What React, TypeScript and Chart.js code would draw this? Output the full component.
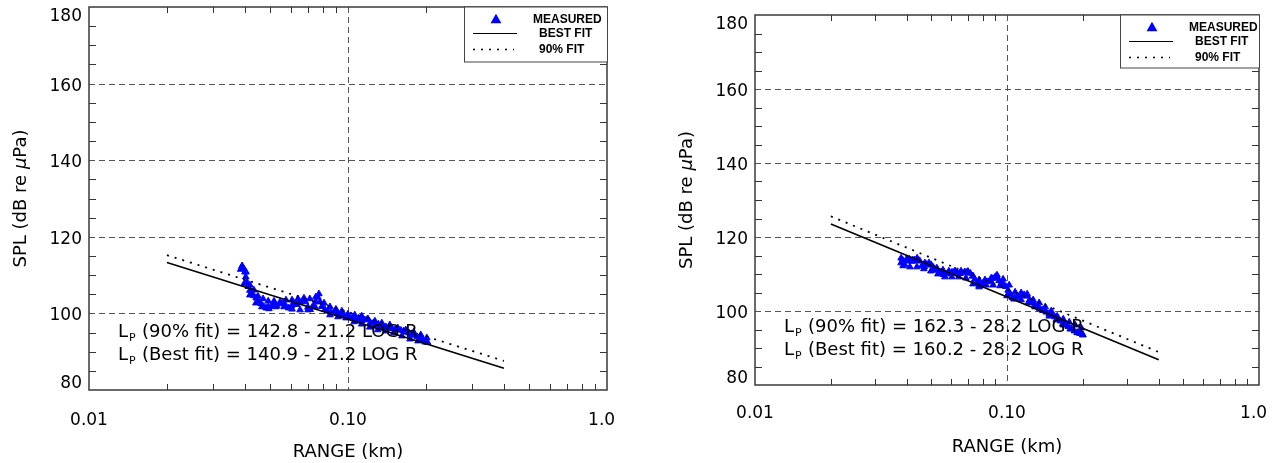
import React, { useEffect, useRef } from 'react';
import { Chart, registerables } from 'chart.js';

Chart.register(...registerables);

// ---------------- data ----------------
const X_TICKS = [0.01, 0.1, 1];
const X_TICK_LABELS = ['0.01', '0.10', '1.00'];
const Y_TICKS = [80, 100, 120, 140, 160, 180];
const Y_GRID = [100, 120, 140, 160];
const X_GRID = [0.1];
const Y_MINOR_STEP = 5;
const X_MINOR_MULT = [2, 3, 4, 5, 6, 7, 8, 9];

const FIT_RANGE = [0.02, 0.4];
const LEFT_BEST = [113.3, 85.7];
const LEFT_90 = [115.2, 87.6];
const RIGHT_BEST = [123.5, 86.8];
const RIGHT_90 = [125.6, 88.9];

// left panel measured samples (three passes through the band)
const LEFT_R = [
  0.0385, 0.039, 0.0395, 0.04, 0.0403, 0.0407, 0.0412, 0.0418, 0.0425, 0.0433,
  0.0442, 0.0452, 0.0462, 0.0473, 0.0483, 0.0495, 0.0505, 0.0517, 0.053, 0.0545,
  0.056, 0.0575, 0.059, 0.0605, 0.062, 0.0635, 0.065, 0.0668, 0.0685, 0.07,
  0.0715, 0.073, 0.075, 0.0765, 0.078, 0.0795, 0.0815, 0.0835, 0.086, 0.0885,
  0.091, 0.0935, 0.096, 0.0985, 0.101, 0.104, 0.107, 0.11, 0.113, 0.116,
  0.119, 0.122, 0.125, 0.128, 0.131, 0.134, 0.137, 0.14, 0.144, 0.148,
  0.152, 0.156, 0.16, 0.164, 0.168, 0.172, 0.176, 0.18, 0.185, 0.19,
  0.195, 0.2, 0.203,
];
const LEFT_SPL = [
  111.5, 112.3, 111.8, 110.8, 109.5, 108.2, 107.0, 106.0, 105.2, 104.6,
  104.0, 103.2, 102.5, 101.8, 101.4, 101.2, 101.8, 102.3, 102.0, 102.5,
  102.6, 102.0, 101.4, 101.9, 102.6, 102.3, 102.9, 103.3, 103.0, 101.6,
  101.0, 101.8, 103.0, 104.2, 103.0, 101.8, 101.0, 100.6, 100.3, 100.4,
  100.0, 99.7, 99.6, 99.2, 99.0, 99.0, 98.8, 98.4, 98.0, 98.3,
  98.6, 97.6, 97.4, 97.0, 97.2, 96.7, 96.4, 96.5, 96.2, 96.0,
  95.8, 95.9, 95.6, 95.4, 95.1, 94.9, 94.6, 94.3, 93.9, 93.5,
  93.1, 92.7, 92.4,
];
const LEFT_R_HI = [
  0.039, 0.0404, 0.0418, 0.0433, 0.0449, 0.047, 0.0492, 0.0518, 0.0547, 0.0576,
  0.0608, 0.0641, 0.0676, 0.0712, 0.0751, 0.0772, 0.0808, 0.0852, 0.0898, 0.0947,
  0.0999, 0.1062, 0.113, 0.1195, 0.127, 0.1351, 0.145, 0.1557, 0.1671, 0.1794,
  0.191, 0.2015,
];
const LEFT_SPL_HI = [
  112.4, 110.8, 107.4, 106.1, 104.5, 103.8, 103.2, 103.2, 103.0, 103.5,
  103.5, 103.8, 104.0, 103.8, 104.3, 105.1, 102.7, 101.7, 101.1, 100.6,
  99.8, 99.6, 99.3, 98.5, 98.0, 97.5, 97.0, 96.2, 95.7, 95.1,
  94.4, 93.6,
];
const LEFT_R_LO = [
  0.0397, 0.0418, 0.0441, 0.0465, 0.0492, 0.0527, 0.0566, 0.0608, 0.0653, 0.0701,
  0.0746, 0.0794, 0.0852, 0.0915, 0.0983, 0.1056, 0.113, 0.1213, 0.1303, 0.14,
  0.1504, 0.1615, 0.1735, 0.1863, 0.1985,
];
const LEFT_SPL_LO = [
  107.7, 104.8, 102.7, 101.7, 101.7, 101.7, 101.7, 101.1, 100.9, 100.9,
  101.7, 101.9, 99.6, 99.1, 98.8, 97.8, 97.2, 96.4, 95.7, 95.4,
  94.9, 94.1, 93.3, 92.8, 92.5,
];

// right panel measured samples
const RIGHT_R = [
  0.038, 0.0385, 0.0392, 0.04, 0.041, 0.042, 0.043, 0.044, 0.045, 0.046,
  0.047, 0.048, 0.049, 0.05, 0.051, 0.052, 0.053, 0.0545, 0.056, 0.0575,
  0.059, 0.0605, 0.062, 0.0635, 0.065, 0.0665, 0.068, 0.07, 0.0715, 0.073,
  0.0745, 0.076, 0.0775, 0.079, 0.0805, 0.082, 0.084, 0.086, 0.088, 0.09,
  0.0915, 0.093, 0.095, 0.097, 0.099, 0.101, 0.103, 0.105, 0.107, 0.109,
  0.111, 0.114, 0.117, 0.12, 0.123, 0.126, 0.129, 0.132, 0.135, 0.139,
  0.143, 0.147, 0.151, 0.155, 0.159, 0.163, 0.167, 0.171, 0.175, 0.18,
  0.185, 0.19, 0.195, 0.2,
];
const RIGHT_SPL = [
  113.0, 113.8, 112.6, 113.5, 114.0, 113.4, 113.8, 114.3, 113.6, 112.3,
  112.0, 112.6, 113.0, 112.5, 111.8, 111.2, 111.0, 110.4, 109.8, 110.0,
  110.3, 110.5, 110.8, 110.4, 110.1, 110.3, 110.6, 110.7, 110.2, 109.4,
  108.6, 107.6, 106.8, 107.0, 107.6, 108.0, 107.9, 108.2, 108.8, 109.3,
  109.0, 108.2, 107.6, 107.2, 106.6, 105.6, 104.6, 103.6, 103.4, 103.7,
  103.9, 104.1, 104.4, 104.0, 103.0, 102.3, 101.8, 101.2, 100.6, 100.1,
  99.7, 99.3, 98.9, 98.4, 97.8, 97.3, 96.7, 96.2, 95.8, 95.2,
  94.6, 94.2, 93.9, 93.6,
];
const RIGHT_R_HI = [
  0.038, 0.04, 0.0423, 0.0447, 0.0472, 0.0499, 0.0527, 0.0557, 0.0588, 0.0622,
  0.0657, 0.0694, 0.0733, 0.0775, 0.0818, 0.0865, 0.0913, 0.0965, 0.102, 0.1077,
  0.1138, 0.1202, 0.127, 0.1342, 0.1418, 0.1498, 0.1582, 0.1672, 0.1766, 0.1866,
  0.1972,
];
const RIGHT_SPL_HI = [
  114.3, 114.1, 113.8, 113.5, 113.0, 112.4, 111.6, 111.1, 110.8, 110.8,
  110.8, 110.5, 109.5, 108.4, 108.4, 108.9, 109.7, 108.6, 107.0, 105.1,
  104.9, 104.6, 103.0, 102.2, 101.1, 100.0, 98.6, 97.8, 97.0, 96.2,
  95.4,
];
const RIGHT_R_LO = [
  0.0387, 0.0412, 0.0439, 0.0468, 0.0499, 0.0532, 0.0567, 0.0604, 0.0644, 0.0687,
  0.0733, 0.0775, 0.0826, 0.088, 0.0938, 0.1, 0.1066, 0.1138, 0.1213, 0.1293,
  0.1379, 0.147, 0.1568, 0.1672, 0.1782, 0.19, 0.2,
];
const RIGHT_SPL_LO = [
  112.2, 111.9, 111.9, 111.4, 110.8, 110.0, 109.2, 109.2, 109.2, 108.9,
  107.3, 106.5, 107.0, 107.0, 106.8, 104.1, 103.2, 103.0, 102.2, 101.1,
  100.3, 98.6, 97.6, 96.2, 95.1, 94.1, 93.5,
];

const LEFT_EQ = ['(90% fit) = 142.8 - 21.2 LOG R', '(Best fit) = 140.9 - 21.2 LOG R'];
const RIGHT_EQ = ['(90% fit) = 162.3 - 28.2 LOG R', '(Best fit) = 160.2 - 28.2 LOG R'];
const EQ_MAIN = 'L';
const EQ_SUB = 'P';
const LEGEND_LABELS = ['MEASURED', 'BEST FIT', '90% FIT'];
const X_TITLE = 'RANGE (km)';
const Y_TITLE_PARTS = ['SPL (dB re ', 'μ', 'Pa)'];

// ---------------- styling ----------------
const FONT = '"DejaVu Sans", "Liberation Sans", sans-serif';
const LEGEND_FONT = 'bold 12px "Liberation Sans", Arial, sans-serif';
const BLUE = '#0000ff';
const CANVAS_TOP = -20;

type PanelCfg = {
  wrapLeft: number;
  wrapWidth: number;
  canvasW: number;
  canvasH: number;
  padTop: number;
  padRight: number;
  yAxisWidth: number;
  xAxisHeight: number;
  xTickPad: number;
  legendW: number;
  legendH: number;
  rSets: number[][];
  splSets: number[][];
  best: number[];
  fit90: number[];
  eq: string[];
};

function makeDecor(cfg: PanelCfg) {
  return {
    id: 'decor',
    beforeDatasetsDraw(chart: any) {
      const { ctx, chartArea: a } = chart;
      const x = chart.scales.x;
      const y = chart.scales.y;
      ctx.save();
      // dashed grid lines
      ctx.strokeStyle = '#555';
      ctx.lineWidth = 1;
      ctx.setLineDash([6, 4]);
      Y_GRID.forEach((v) => {
        const py = Math.round(y.getPixelForValue(v)) + 0.5;
        ctx.beginPath();
        ctx.moveTo(a.left, py);
        ctx.lineTo(a.right, py);
        ctx.stroke();
      });
      X_GRID.forEach((v) => {
        const px = Math.round(x.getPixelForValue(v)) + 0.5;
        ctx.beginPath();
        ctx.moveTo(px, a.top);
        ctx.lineTo(px, a.bottom);
        ctx.stroke();
      });
      ctx.setLineDash([]);
      // minor ticks
      ctx.strokeStyle = '#333';
      ctx.lineWidth = 1;
      for (let v = y.min + Y_MINOR_STEP; v < y.max; v += Y_MINOR_STEP) {
        if (Y_GRID.includes(v)) continue;
        const py = Math.round(y.getPixelForValue(v)) + 0.5;
        ctx.beginPath();
        ctx.moveTo(a.left, py);
        ctx.lineTo(a.left + 7, py);
        ctx.moveTo(a.right - 7, py);
        ctx.lineTo(a.right, py);
        ctx.stroke();
      }
      for (let d = X_TICKS[0]; d < X_TICKS[X_TICKS.length - 1] - 1e-9; d *= 10) {
        X_MINOR_MULT.forEach((k) => {
          const px = Math.round(x.getPixelForValue(k * d)) + 0.5;
          ctx.beginPath();
          ctx.moveTo(px, a.bottom);
          ctx.lineTo(px, a.bottom - 6);
          ctx.moveTo(px, a.top);
          ctx.lineTo(px, a.top + 6);
          ctx.stroke();
        });
      }
      // frame
      ctx.strokeStyle = '#3a3a3a';
      ctx.lineWidth = 1.5;
      ctx.strokeRect(a.left, a.top, a.right - a.left, a.bottom - a.top);
      ctx.restore();
    },
    afterDatasetsDraw(chart: any) {
      const { ctx, chartArea: a } = chart;
      const y = chart.scales.y;
      ctx.save();
      // y tick labels
      ctx.fillStyle = '#000';
      ctx.font = `17px ${FONT}`;
      ctx.textAlign = 'right';
      ctx.textBaseline = 'middle';
      Y_TICKS.forEach((v) => {
        const off = v === y.max ? 9.5 : v === y.min ? -6 : 2.5;
        ctx.fillText(String(v), a.left - 7, y.getPixelForValue(v) + off);
      });
      // equations
      ctx.textAlign = 'left';
      ctx.textBaseline = 'alphabetic';
      const baselines = [a.bottom - 53, a.bottom - 30];
      cfg.eq.forEach((txt, i) => {
        const x0 = a.left + 29;
        const b = baselines[i];
        ctx.font = `18px ${FONT}`;
        ctx.fillText(EQ_MAIN, x0, b);
        ctx.font = `11px ${FONT}`;
        ctx.fillText(EQ_SUB, x0 + 11, b + 4);
        ctx.font = `18px ${FONT}`;
        ctx.fillText(txt, x0 + 24, b);
      });
      // legend
      const L = a.right - cfg.legendW;
      const T = a.top;
      ctx.fillStyle = '#fff';
      ctx.fillRect(L, T, cfg.legendW, cfg.legendH);
      ctx.strokeStyle = '#444';
      ctx.lineWidth = 1;
      ctx.strokeRect(Math.round(L) + 0.5, T, cfg.legendW, cfg.legendH);
      // triangle
      const tx = L + 32;
      const ty = T + 13;
      const tr = 6.3;
      ctx.fillStyle = BLUE;
      ctx.beginPath();
      ctx.moveTo(tx, ty - tr);
      ctx.lineTo(tx + tr * 0.866, ty + tr * 0.5);
      ctx.lineTo(tx - tr * 0.866, ty + tr * 0.5);
      ctx.closePath();
      ctx.fill();
      // lines
      ctx.strokeStyle = '#000';
      ctx.lineWidth = 1.2;
      ctx.beginPath();
      ctx.moveTo(L + 9, T + 26.5);
      ctx.lineTo(L + 53, T + 26.5);
      ctx.stroke();
      ctx.lineWidth = 1.6;
      ctx.setLineDash([2, 6]);
      ctx.beginPath();
      ctx.moveTo(L + 9, T + 42.5);
      ctx.lineTo(L + 50, T + 42.5);
      ctx.stroke();
      ctx.setLineDash([]);
      // legend text
      ctx.fillStyle = '#000';
      ctx.font = LEGEND_FONT;
      ctx.textBaseline = 'middle';
      ctx.fillText(LEGEND_LABELS[0], L + 69, T + 12.5);
      ctx.fillText(LEGEND_LABELS[1], L + 75, T + 26.5);
      ctx.fillText(LEGEND_LABELS[2], L + 75, T + 42.5);
      // axis titles
      ctx.font = `18px ${FONT}`;
      ctx.textAlign = 'center';
      ctx.textBaseline = 'alphabetic';
      ctx.fillText(X_TITLE, (a.left + a.right) / 2, a.bottom + 67);
      ctx.translate(a.left - 68, (a.top + a.bottom) / 2);
      ctx.rotate(-Math.PI / 2);
      ctx.textBaseline = 'middle';
      ctx.textAlign = 'left';
      const fonts = [`18px ${FONT}`, `italic 18px ${FONT}`, `18px ${FONT}`];
      let total = 0;
      const widths = Y_TITLE_PARTS.map((s, i) => {
        ctx.font = fonts[i];
        const w = ctx.measureText(s).width;
        total += w;
        return w;
      });
      let cx = -total / 2;
      Y_TITLE_PARTS.forEach((s, i) => {
        ctx.font = fonts[i];
        ctx.fillText(s, cx, 0);
        cx += widths[i];
      });
      ctx.restore();
    },
  };
}

function Panel({ cfg }: { cfg: PanelCfg }) {
  const ref = useRef<HTMLCanvasElement>(null);
  useEffect(() => {
    const canvas = ref.current;
    if (!canvas) return;
    const measured: { x: number; y: number }[] = [];
    cfg.rSets.forEach((rs, k) => {
      rs.forEach((r, i) => measured.push({ x: r, y: cfg.splSets[k][i] }));
    });
    const chart = new Chart(canvas, {
      type: 'scatter',
      data: {
        datasets: [
          {
            label: 'BEST FIT',
            data: FIT_RANGE.map((r, i) => ({ x: r, y: cfg.best[i] })),
            showLine: true,
            borderColor: '#000',
            borderWidth: 1.6,
            pointRadius: 0,
            order: 0,
          },
          {
            label: '90% FIT',
            data: FIT_RANGE.map((r, i) => ({ x: r, y: cfg.fit90[i] })),
            showLine: true,
            borderColor: '#000',
            borderWidth: 1.8,
            borderDash: [2, 6],
            pointRadius: 0,
            order: 0,
          },
          {
            label: 'MEASURED',
            data: measured,
            pointStyle: 'triangle',
            pointRadius: 3.8,
            backgroundColor: BLUE,
            borderColor: BLUE,
            borderWidth: 1,
            order: 1,
          },
        ],
      } as any,
      options: {
        responsive: false,
        animation: false,
        devicePixelRatio: 1,
        events: [],
        layout: { padding: { top: cfg.padTop, right: cfg.padRight, left: 0, bottom: 0 } },
        plugins: { legend: { display: false }, tooltip: { enabled: false } },
        scales: {
          x: {
            type: 'logarithmic',
            min: X_TICKS[0],
            max: X_TICKS[X_TICKS.length - 1],
            grid: { display: false, drawTicks: false },
            border: { display: false },
            afterBuildTicks: (s: any) => {
              s.ticks = X_TICKS.map((v) => ({ value: v }));
            },
            afterFit: (s: any) => {
              s.height = cfg.xAxisHeight;
            },
            ticks: {
              autoSkip: false,
              maxRotation: 0,
              minRotation: 0,
              color: '#000',
              padding: cfg.xTickPad,
              font: { family: FONT, size: 17 },
              callback: (v: any) => {
                const idx = X_TICKS.findIndex((t) => Math.abs(t - Number(v)) < 1e-9);
                return idx >= 0 ? X_TICK_LABELS[idx] : '';
              },
            },
          },
          y: {
            type: 'linear',
            min: Y_TICKS[0],
            max: Y_TICKS[Y_TICKS.length - 1],
            grid: { display: false, drawTicks: false },
            border: { display: false },
            ticks: { display: false, stepSize: 20 },
            afterFit: (s: any) => {
              s.width = cfg.yAxisWidth;
            },
          },
        },
      } as any,
      plugins: [makeDecor(cfg)],
    });
    return () => chart.destroy();
  }, []);
  return (
    <div
      style={{
        position: 'absolute',
        left: cfg.wrapLeft,
        top: 0,
        width: cfg.wrapWidth,
        height: 463,
        overflow: 'hidden',
      }}
    >
      <canvas
        ref={ref}
        width={cfg.canvasW}
        height={cfg.canvasH}
        style={{ position: 'absolute', left: 0, top: CANVAS_TOP, width: cfg.canvasW, height: cfg.canvasH }}
      />
    </div>
  );
}

const LEFT_PANEL: PanelCfg = {
  wrapLeft: 0,
  wrapWidth: 616,
  canvasW: 660,
  canvasH: 483,
  padTop: 27,
  padRight: 53,
  yAxisWidth: 89,
  xAxisHeight: 73,
  xTickPad: 20,
  legendW: 143,
  legendH: 55,
  rSets: [LEFT_R, LEFT_R_HI, LEFT_R_LO],
  splSets: [LEFT_SPL, LEFT_SPL_HI, LEFT_SPL_LO],
  best: LEFT_BEST,
  fit90: LEFT_90,
  eq: LEFT_EQ,
};

const RIGHT_PANEL: PanelCfg = {
  wrapLeft: 650,
  wrapWidth: 618,
  canvasW: 660,
  canvasH: 483,
  padTop: 35,
  padRight: 51,
  yAxisWidth: 105,
  xAxisHeight: 78,
  xTickPad: 18.5,
  legendW: 139,
  legendH: 53,
  rSets: [RIGHT_R, RIGHT_R_HI, RIGHT_R_LO],
  splSets: [RIGHT_SPL, RIGHT_SPL_HI, RIGHT_SPL_LO],
  best: RIGHT_BEST,
  fit90: RIGHT_90,
  eq: RIGHT_EQ,
};

export default function App() {
  return (
    <div
      style={{
        position: 'absolute',
        left: 0,
        top: 0,
        width: 1283,
        height: 463,
        background: '#fff',
        overflow: 'hidden',
      }}
    >
      <Panel cfg={LEFT_PANEL} />
      <Panel cfg={RIGHT_PANEL} />
    </div>
  );
}
